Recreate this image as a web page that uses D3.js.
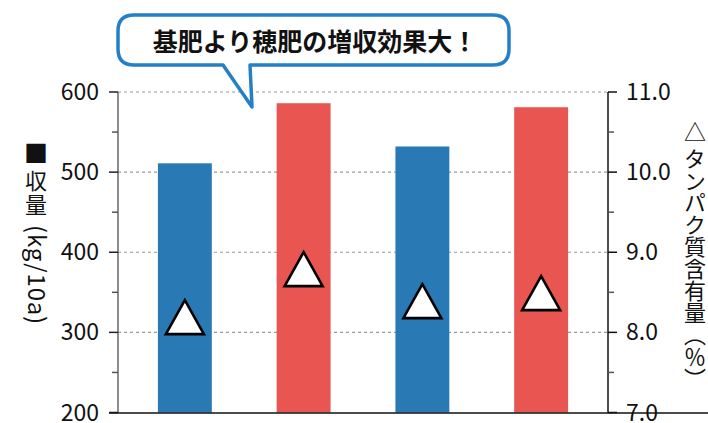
<!DOCTYPE html>
<html><head><meta charset="utf-8">
<script src="https://cdn.jsdelivr.net/npm/d3@7"></script>
<style>body{margin:0;background:#fff}svg{display:block}text{font-family:"Noto Sans CJK JP","Noto Sans",sans-serif}</style>
</head><body>
<script>
const categories = ["A","B","C","D"];
const yieldValues = [511, 586, 532, 581];
const proteinValues = [8.19, 8.79, 8.39, 8.49];
const barColors = ["#2979b4","#e95550","#2979b4","#e95550"];
const leftTicks = [200,300,400,500,600];
const rightTicks = [7,8,9,10,11];
const title = "基肥より穂肥の増収効果大！";

const W=708,H=423;
const svg=d3.select("body").append("svg").attr("width",W).attr("height",H);
const x0=118,x1=608,yTop=92,yBot=412.5;
const x=d3.scaleBand().domain(categories).range([x0,x1]).paddingInner(0.546).paddingOuter(0.336);
const yL=d3.scaleLinear().domain([200,600]).range([yBot,yTop]);
const yR=d3.scaleLinear().domain([7,11]).range([yBot,yTop]);

// gridlines
svg.append("g").selectAll("line").data([300,400,500,600]).join("line")
 .attr("x1",x0).attr("x2",x1).attr("y1",d=>yL(d)).attr("y2",d=>yL(d))
 .attr("stroke","#999").attr("stroke-width",1.2).attr("stroke-dasharray","3,3");

// bars
svg.append("g").selectAll("rect").data(yieldValues).join("rect")
 .attr("x",(d,i)=>x(categories[i])).attr("width",x.bandwidth())
 .attr("y",d=>yL(d)).attr("height",d=>yBot-yL(d)).attr("fill",(d,i)=>barColors[i]);

// triangles
const tw=38,th=34;
svg.append("g").selectAll("path").data(proteinValues).join("path")
 .attr("transform",(d,i)=>`translate(${x(categories[i])+x.bandwidth()/2},${yR(d)})`)
 .attr("d",`M0,${-th/2}L${tw/2},${th/2}L${-tw/2},${th/2}Z`)
 .attr("fill","#fff").attr("stroke","#000").attr("stroke-width",2.6).attr("stroke-linejoin","miter");

// left axis
const gl=svg.append("g");
gl.append("line").attr("x1",x0).attr("x2",x0).attr("y1",yTop).attr("y2",yBot).attr("stroke","#666").attr("stroke-width",1.5);
const minorL=[250,350,450,550];
gl.selectAll(".mj").data(leftTicks).join("line").attr("x1",x0-9).attr("x2",x0).attr("y1",d=>yL(d)).attr("y2",d=>yL(d)).attr("stroke","#222").attr("stroke-width",1.5);
gl.selectAll(".mn").data(minorL).join("line").attr("x1",x0-6).attr("x2",x0).attr("y1",d=>yL(d)).attr("y2",d=>yL(d)).attr("stroke","#555").attr("stroke-width",1.5);
gl.selectAll("text").data(leftTicks).join("text").attr("x",99).attr("y",d=>yL(d)).attr("dy","0.35em")
 .attr("text-anchor","end").attr("font-size",23).attr("fill","#111").text(d=>d);

// right axis
const gr=svg.append("g");
gr.append("line").attr("x1",x1).attr("x2",x1).attr("y1",yTop).attr("y2",yBot).attr("stroke","#111").attr("stroke-width",1.5);
const minorR=[7.5,8.5,9.5,10.5];
gr.selectAll(".mj").data(rightTicks).join("line").attr("x1",x1).attr("x2",x1+9).attr("y1",d=>yR(d)).attr("y2",d=>yR(d)).attr("stroke","#111").attr("stroke-width",1.5);
gr.selectAll(".mn").data(minorR).join("line").attr("x1",x1).attr("x2",x1+6).attr("y1",d=>yR(d)).attr("y2",d=>yR(d)).attr("stroke","#555").attr("stroke-width",1.5);
gr.selectAll("text").data(rightTicks).join("text").attr("x",626).attr("y",d=>yR(d)).attr("dy","0.35em")
 .attr("font-size",23).attr("fill","#111").text(d=>d.toFixed(1));

// bottom axis
svg.append("line").attr("x1",109).attr("x2",W).attr("y1",yBot+0.5).attr("y2",yBot+0.5).attr("stroke","#111").attr("stroke-width",1.5);

// left axis title (vertical)
const lt=svg.append("g").attr("fill","#111");
lt.append("text").attr("x",36).attr("y",154).attr("dy","0.35em").attr("text-anchor","middle").attr("font-size",24).text("■");
lt.append("text").attr("x",36).attr("y",181).attr("dy","0.36em").attr("text-anchor","middle").attr("font-size",22).text("収");
lt.append("text").attr("x",36).attr("y",205).attr("dy","0.36em").attr("text-anchor","middle").attr("font-size",22).text("量");
lt.append("text").attr("transform","translate(36,225) rotate(90)").attr("dy","0.35em").attr("font-size",24)
 .attr("letter-spacing",0.8).text("(kg/10a)");

// right axis title (vertical)
svg.append("text").attr("x",695).attr("y",121).style("writing-mode","vertical-rl")
 .attr("font-size",22).attr("fill","#111").text("△ タンパク質含有量（％）");

// callout bubble
const bx0=118,bx1=509,by0=15,by1=65,r=16,tl=223,tr=250,tipX=252,tipY=107;
const p=`M${bx0+r},${by0}H${bx1-r}Q${bx1},${by0} ${bx1},${by0+r}V${by1-r}Q${bx1},${by1} ${bx1-r},${by1}H${tr}L${tipX},${tipY}L${tl},${by1}H${bx0+r}Q${bx0},${by1} ${bx0},${by1-r}V${by0+r}Q${bx0},${by0} ${bx0+r},${by0}Z`;
svg.append("path").attr("d",p).attr("fill","#fff").attr("stroke","#2480c6").attr("stroke-width",3.5).attr("stroke-linejoin","round");
svg.append("text").attr("x",315).attr("y",42).attr("dy","0.36em").attr("text-anchor","middle")
 .attr("font-size",25).attr("font-weight","bold").attr("fill","#111").text(title);
</script>
</body></html>
